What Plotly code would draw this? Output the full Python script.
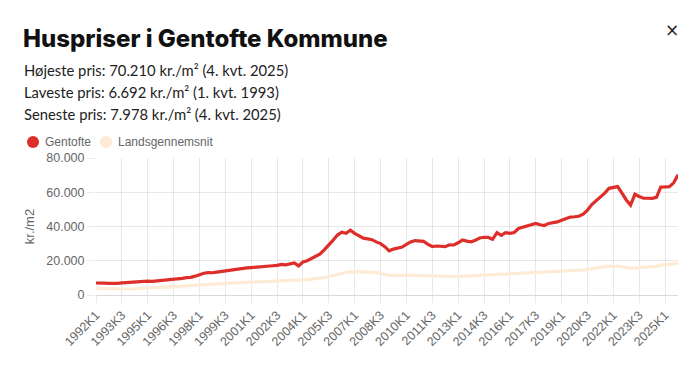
import plotly.graph_objects as go

# ---------------- data ----------------
years = list(range(1992, 2026))
quarters = [f"{y}K{q}" for y in years for q in range(1, 5)]

gentofte = [
    7000, 7100, 6900, 6800, 6692, 6800, 7100, 7300, 7500, 7600,
    7700, 7900, 8100, 8000, 8200, 8700, 9000, 9200, 9400, 9200,
    9700, 10100, 10300, 11000, 12000, 12700, 13100, 13000, 13400, 13800,
    14000, 14300, 14900, 15300, 15600, 15800, 16000, 16300, 16500, 16700,
    16900, 17100, 17300, 17900, 17600, 18000, 18700, 17000, 19300, 20000,
    21500, 22500, 24000, 26500, 29000, 32000, 35000, 36700, 36000, 37800,
    36000, 34500, 33200, 32800, 32300, 31000, 30000, 28200, 25800, 26800,
    27500, 28000, 29500, 31000, 31800, 31500, 31300, 29600, 28300, 28600,
    28300, 28200, 29300, 29200, 30500, 32100, 31500, 31100, 32000, 33300,
    33700, 33600, 32500, 36400, 34800, 36400, 36000, 36500, 38800, 39500,
    40200, 41000, 41800, 41000, 40600, 41800, 42200, 42700, 43700, 44500,
    45500, 45700, 46000, 47200, 49500, 52800, 55000, 57800, 59500, 62300,
    63000, 63300, 59500, 55500, 52500, 58800, 57500, 56500, 56500, 56400,
    57000, 63000, 63100, 63300, 65500, 70210,
]

landsgennemsnit = [
    3900, 3800, 3600, 3500, 3400, 3400, 3400, 3500, 3500, 3600,
    3600, 3700, 3800, 3900, 4100, 4300, 4500, 4700, 4900, 5100,
    5300, 5400, 5600, 5700, 5800, 6000, 6200, 6400, 6500, 6700,
    6800, 6900, 7000, 7100, 7200, 7300, 7400, 7500, 7600, 7700,
    7700, 7800, 7800, 8000, 8100, 8300, 8500, 8600, 8800, 9000,
    9300, 9500, 9800, 10200, 10700, 11400, 12300, 12900, 13300, 13500,
    13600, 13600, 13600, 13400, 13300, 13100, 12600, 11900, 11500, 11500,
    11600, 11700, 11700, 11700, 11600, 11400, 11300, 11100, 11000, 10900,
    10900, 10800, 10800, 10800, 10900, 11000, 11100, 11200, 11300, 11400,
    11500, 11700, 11800, 11900, 12100, 12200, 12300, 12500, 12600, 12700,
    12800, 12900, 13000, 13200, 13300, 13500, 13600, 13700, 13900, 14000,
    14100, 14300, 14400, 14600, 15000, 15500, 16000, 16400, 16600, 16800,
    16900, 16800, 16500, 15900, 15700, 15800, 16000, 16100, 16200, 16400,
    16700, 17400, 17700, 17900, 18200, 18500,
]

tick_labels = quarters[::6]
y_ticks = [0, 20000, 40000, 60000, 80000]

title = "Huspriser i Gentofte Kommune"
subtitles = [
    "Højeste pris: 70.210 kr./m² (4. kvt. 2025)",
    "Laveste pris: 6.692 kr./m² (1. kvt. 1993)",
    "Seneste pris: 7.978 kr./m² (4. kvt. 2025)",
]
series_names = ["Gentofte", "Landsgennemsnit"]

# ---------------- style ----------------
RED = "#de2e2a"
CREAM = "#fdebd6"
GRID = "rgba(0,0,0,0.09)"
TXT = "#666666"

OFF = 8  # default page body margin
W, H = 700 - 2 * OFF, 371 - 2 * OFF
L, R, T, B = 96 - OFF, 700 - 678 - OFF, 158 - OFF, 371 - 295 - OFF
PW, PH = W - L - R, H - T - B


def px(x):  # page pixel -> paper
    return (x - OFF - L) / PW


def py(y):
    return (H - B - (y - OFF)) / PH


fig = go.Figure()
fig.add_trace(go.Scatter(x=quarters, y=landsgennemsnit, mode="lines",
                         name=series_names[1],
                         line=dict(color=CREAM, width=3.2), showlegend=False))
fig.add_trace(go.Scatter(x=quarters, y=gentofte, mode="lines",
                         name=series_names[0],
                         line=dict(color=RED, width=3.2), showlegend=False))

annotations = [
    dict(text=title, x=px(21), y=py(38), xref="paper", yref="paper",
         xanchor="left", yanchor="middle", showarrow=False,
         font=dict(family="Inter", size=24, weight=800, color="#111111")),
    dict(text="×", x=px(672), y=py(30), xref="paper", yref="paper",
         xanchor="center", yanchor="middle", showarrow=False,
         font=dict(family="DejaVu Sans", size=17, color="#222222")),
]
for i, s in enumerate(subtitles):
    annotations.append(dict(text=s, x=px(22), y=py(70 + 22 * i), xref="paper",
                            yref="paper", xanchor="left", yanchor="middle",
                            showarrow=False,
                            font=dict(family="Lato", size=14.8, color="#222222")))

# legend (manual, circle markers)
legend_items = [(33, 43, series_names[0], RED), (106, 116, series_names[1], CREAM)]
shapes = []
for cx, tx, name, col in legend_items:
    shapes.append(dict(type="circle", xref="paper", yref="paper",
                       x0=px(cx - 6), x1=px(cx + 6), y0=py(142 + 6), y1=py(142 - 6),
                       fillcolor=col, line=dict(width=0)))
    annotations.append(dict(text=name, x=px(tx), y=py(142), xref="paper", yref="paper",
                            xanchor="left", yanchor="middle", showarrow=False,
                            font=dict(family="Liberation Sans", size=12, color=TXT)))

fig.update_layout(
    width=W, height=H,
    margin=dict(l=L, r=R, t=T, b=B),
    paper_bgcolor="white", plot_bgcolor="white",
    separators=",.",
    showlegend=False,
    annotations=annotations,
    shapes=shapes,
    xaxis=dict(
        type="category", range=[0, len(quarters) - 1],
        tickmode="array", tickvals=tick_labels, ticktext=tick_labels,
        tickangle=-45, showgrid=True, gridcolor=GRID, gridwidth=1,
        ticks="outside", ticklen=7, tickcolor=GRID,
        tickfont=dict(family="Liberation Sans", size=12.5, color=TXT),
        showline=False, zeroline=False,
    ),
    yaxis=dict(
        range=[0, 80000], tickvals=y_ticks, tickformat=",d",
        showgrid=True, gridcolor=GRID, gridwidth=1,
        ticks="outside", ticklen=8, tickcolor=GRID,
        tickfont=dict(family="Liberation Sans", size=12.5, color=TXT),
        title=dict(text="kr./m2", font=dict(family="Liberation Sans", size=13, color=TXT),
                   standoff=8),
        zeroline=True, zerolinecolor="rgba(0,0,0,0.15)", zerolinewidth=1,
        showline=False,
    ),
)

fig.write_html("out.html")
